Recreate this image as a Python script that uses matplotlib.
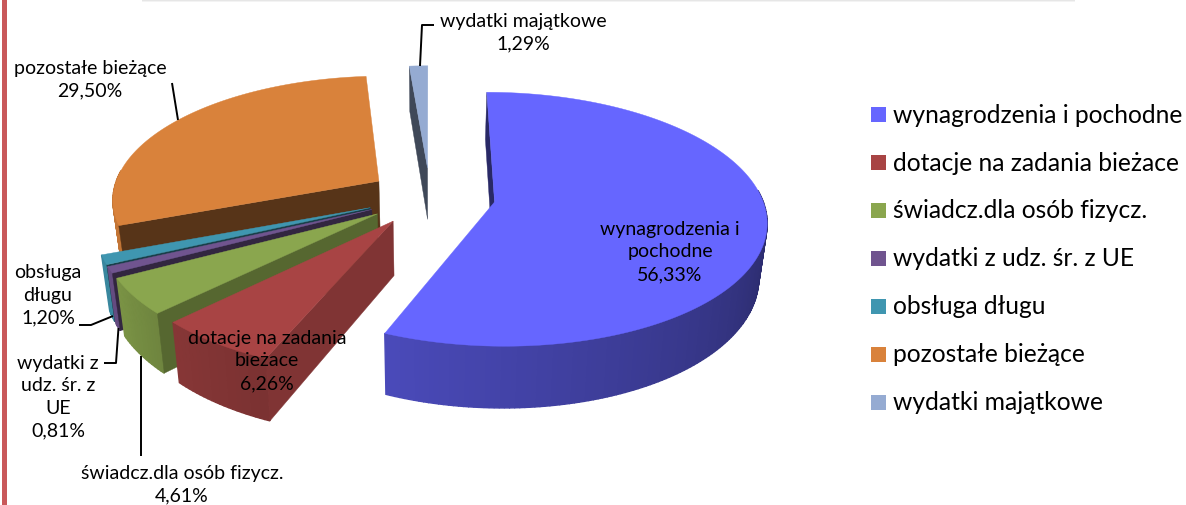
#!/usr/bin/env python3
"""Struktura wydatkow - wykres kolowy 3D z wysunietymi wycinkami."""

import matplotlib
matplotlib.use("Agg")
import matplotlib.pyplot as plt
import numpy as np
from matplotlib.patches import Polygon, Rectangle

plt.rcParams["font.family"] = ["Lato", "DejaVu Sans"]

# ── Dane ─────────────────────────────────────────────────────────────────────
categories = ["wynagrodzenia i pochodne", "dotacje na zadania bieżace",
              "świadcz.dla osób fizycz.", "wydatki z udz. śr. z UE",
              "obsługa długu", "pozostałe bieżące", "wydatki majątkowe"]
values = [56.33, 6.26, 4.61, 0.81, 1.20, 29.50, 1.29]
colors = ["#6666FF", "#A84444", "#8AA64E", "#70548F", "#3F96B0", "#D9823B", "#95ABD2"]
inner_shade = [0.40, 0.76, 0.62, 0.45, 0.42, 0.40, 0.42]
explode = [0.245, 0.24, 0.24, 0.24, 0.24, 0.23, 0.235]

# ── Geometria rzutu (piksele obrazu) ─────────────────────────────────────────
CX, CY = 430, 197
RX, RY = 267, 123
PERSP = 0.135
HEIGHT = 53
BOTTOM_X = 0.975


def project(px, pz, bottom=False):
    s = 1 / (1 - PERSP * pz)
    if bottom:
        return CX + RX * px * s * BOTTOM_X, CY + RY * pz * s + HEIGHT * s
    return CX + RX * px * s, CY + RY * pz * s


def shade(col, f):
    return tuple(c * f for c in matplotlib.colors.to_rgb(col))


fig = plt.figure(figsize=(11.86, 5.06), dpi=100)
ax = fig.add_axes([0, 0, 1, 1])
ax.set_xlim(0, 1186)
ax.set_ylim(506, 0)
ax.axis("off")

# ── Wycinki ──────────────────────────────────────────────────────────────────
edges = np.concatenate([[0], np.cumsum(values)]) / sum(values) * 2 * np.pi
order = [6, 5, 4, 3, 2, 1, 0]  # od tylu do przodu

for i in order:
    a0, a1 = edges[i], edges[i + 1]
    mid = (a0 + a1) / 2
    ox, oz = explode[i] * np.sin(mid), -explode[i] * np.cos(mid)
    ang = np.linspace(a0, a1, max(int((a1 - a0) * 60), 4))
    xs = ox + np.sin(ang)
    zs = oz - np.cos(ang)
    top = [project(p, q) for p, q in zip(xs, zs)]
    bot = [project(p, q, True) for p, q in zip(xs, zs)]
    apex_t = project(ox, oz)
    apex_b = project(ox, oz, True)
    col = colors[i]
    z = 10 + order.index(i) * 3

    # sciana zewnetrzna, tylko od frontu, jasniejsza po lewej
    for k in range(len(ang) - 1):
        deg = np.degrees((ang[k] + ang[k + 1]) / 2)
        if not 85 < deg < 275:
            continue
        f = np.interp(deg, [100, 200, 225, 245, 360], [0.42, 0.72, 0.80, 0.90, 0.90])
        wc = shade(col, f)
        ax.add_patch(Polygon([top[k], top[k + 1], bot[k + 1], bot[k]],
                             fc=wc, ec=wc, lw=1.0, zorder=z))

    # sciana promieniowa - widoczna tylko ta na poczatku wycinka
    dark = shade(col, inner_shade[i])
    ax.add_patch(Polygon([apex_t, top[0], bot[0], apex_b], fc=dark, ec=dark, lw=0.3, zorder=z + 1))

    # wierzch
    ax.add_patch(Polygon([apex_t] + top, fc=col, ec=col, lw=0.3, zorder=z + 2))

# ── Etykiety danych ──────────────────────────────────────────────────────────
pct = [f"{v:.2f}%".replace(".", ",") for v in values]
label_kw = dict(fontsize=14, ha="center", va="center", color="black", zorder=40, linespacing=1.4)

ax.text(670, 252, f"wynagrodzenia i\npochodne\n{pct[0]}", **label_kw)
ax.text(267, 361, f"dotacje na zadania\nbieżace\n{pct[1]}", **label_kw)
ax.text(182, 485, f"świadcz.dla osób fizycz.\n{pct[2]}", **label_kw)
ax.text(58, 397, f"wydatki z\nudz. śr. z\nUE\n{pct[3]}", **label_kw)
ax.text(48, 295, f"obsługa\ndługu\n{pct[4]}", **label_kw)
ax.text(90, 80, f"pozostałe bieżące\n{pct[5]}", **label_kw)
ax.text(523, 33, f"wydatki majątkowe\n{pct[6]}", **label_kw)

# ── Linie odniesienia ────────────────────────────────────────────────────────
leaders = [
    ([141, 141], [357, 457]),
    ([104, 116, 118.5], [364, 364, 329]),
    ([79, 91, 113], [326, 326, 317]),
    ([172, 178], [84, 121]),
    ([434, 422, 420], [26, 26, 67]),
]
for lx, ly in leaders:
    ax.plot(lx, ly, color="black", lw=1.4, zorder=35, solid_capstyle="butt")

# ── Legenda ──────────────────────────────────────────────────────────────────
for i, name in enumerate(categories):
    y = 115 + i * 48
    ax.add_patch(Rectangle((871, y - 7.5), 15, 15, fc=colors[i], ec="none"))
    ax.text(893, y, name, fontsize=17.7, ha="left", va="center", color="black")

# ── Tlo: pasek z lewej i cien ramki u gory ───────────────────────────────────
ax.add_patch(Rectangle((2, 0), 5, 506, fc="#C9585A", ec="none"))
for y0, grey in enumerate(["#DADADA", "#E6E6E6", "#F3F3F3"]):
    ax.add_patch(Rectangle((142, y0), 933, 1, fc=grey, ec="none"))

fig.savefig("out.png", dpi=100)
